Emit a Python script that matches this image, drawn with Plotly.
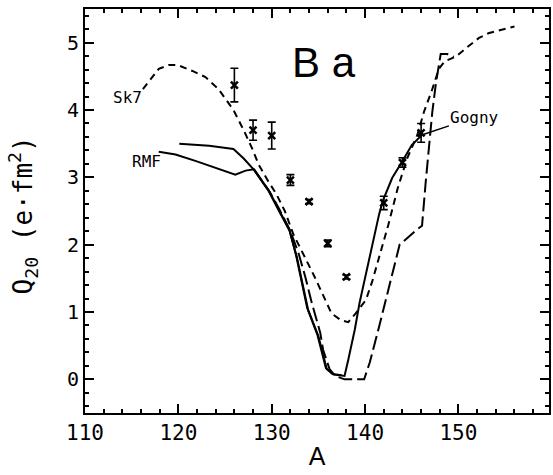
import plotly.graph_objects as go

# Quadrupole moments Q20 (e·fm^2) of Ba isotopes versus mass number A

# Sk7 (Skyrme) calculation
sk7_A = [116.2, 117.1, 117.9, 119.0, 119.9, 121.5, 122.9, 124.3, 125.2, 125.9,
         127.0, 127.9, 128.6, 129.5, 130.5, 131.4, 132.3, 133.4, 134.6, 135.5,
         136.4, 137.4, 138.2, 139.0, 140.1, 140.8, 141.5, 142.5, 143.5, 144.5,
         145.6, 146.3, 147.2, 147.9, 148.5, 149.8, 151.1, 152.2, 153.2, 154.5, 156.0]
sk7_Q = [4.31, 4.46, 4.61, 4.67, 4.67, 4.58, 4.49, 4.31, 4.14, 4.00,
         3.70, 3.43, 3.19, 2.97, 2.75, 2.50, 2.16, 1.86, 1.52, 1.25,
         0.98, 0.88, 0.85, 0.98, 1.18, 1.47, 1.81, 2.30, 2.84, 3.28,
         3.63, 3.97, 4.31, 4.61, 4.72, 4.80, 4.95, 5.07, 5.14, 5.19, 5.24]

# Gogny calculation
gogny_A = [120.1, 123.3, 125.9, 127.0, 128.1, 129.7, 130.7, 131.9, 132.7, 133.2,
           133.9, 135.0, 135.9, 136.7, 137.8, 138.2, 138.9, 139.4, 140.1, 140.8,
           141.5, 141.9, 142.9, 144.0, 145.0, 146.1]
gogny_Q = [3.50, 3.47, 3.42, 3.28, 3.11, 2.79, 2.52, 2.21, 1.81, 1.47,
           1.03, 0.64, 0.15, 0.07, 0.05, 0.29, 0.74, 1.13, 1.57, 2.06,
           2.45, 2.65, 2.99, 3.24, 3.48, 3.63]

# RMF calculation
rmf_A = [117.9, 119.7, 121.9, 124.0, 126.1, 127.2, 128.1, 129.7, 130.7, 131.9,
         132.6, 133.1, 133.8, 134.9, 135.8, 136.5, 137.5]
rmf_Q = [3.38, 3.34, 3.24, 3.14, 3.04, 3.10, 3.12, 2.80, 2.54, 2.22,
         1.85, 1.50, 1.06, 0.66, 0.17, 0.08, 0.06]

# Unlabelled long-dashed calculation
ld_A = [128.1, 129.8, 130.8, 132.0, 132.9, 133.6, 134.3, 135.2, 135.5, 136.2,
        136.8, 137.8, 139.9, 140.5, 141.5, 142.4, 143.7, 145.6, 146.1, 146.5,
        146.9, 147.2, 147.6, 147.9, 148.1, 148.8, 149.5]
ld_Q = [3.12, 2.78, 2.53, 2.20, 1.86, 1.52, 1.13, 0.69, 0.44, 0.15,
        0.05, 0.00, 0.00, 0.25, 0.78, 1.27, 2.00, 2.23, 2.28, 2.94,
        3.53, 3.97, 4.41, 4.71, 4.83, 4.83, 4.79]

# Experimental values with uncertainties
exp_A = [126, 128, 130, 132, 134, 136, 138, 142, 144, 146]
exp_Q = [4.37, 3.70, 3.62, 2.96, 2.64, 2.02, 1.52, 2.62, 3.22, 3.66]
exp_err = [0.25, 0.15, 0.20, 0.08, 0.03, 0.05, 0.03, 0.10, 0.07, 0.14]

x_range = [110, 159.7]
y_range = [-0.5, 5.5]

mono = "DejaVu Sans Mono"
sans = "Liberation Sans"

fig = go.Figure()

fig.add_trace(go.Scatter(x=sk7_A, y=sk7_Q, mode="lines",
                         line=dict(color="black", width=2, dash="7px,5px")))
fig.add_trace(go.Scatter(x=ld_A, y=ld_Q, mode="lines",
                         line=dict(color="black", width=2, dash="14px,5px")))
fig.add_trace(go.Scatter(x=rmf_A, y=rmf_Q, mode="lines",
                         line=dict(color="black", width=2)))
fig.add_trace(go.Scatter(x=gogny_A, y=gogny_Q, mode="lines",
                         line=dict(color="black", width=2)))
fig.add_trace(go.Scatter(
    x=exp_A, y=exp_Q, mode="markers",
    marker=dict(symbol="x-thin", size=7, line=dict(color="black", width=2.5)),
    error_y=dict(type="data", array=exp_err, visible=True,
                 color="black", thickness=1.6, width=4),
))
# empty trace that carries the overlay axes used for the minor ticks
fig.add_trace(go.Scatter(x=[None], y=[None], xaxis="x2", yaxis="y2",
                         mode="lines", hoverinfo="skip"))

fig.add_annotation(x=135.6, y=4.70, text="B a", showarrow=False,
                   font=dict(family=sans, size=42, color="black"))
fig.add_annotation(x=114.5, y=4.18, text="Sk7", showarrow=False,
                   font=dict(family=mono, size=16, color="black"))
fig.add_annotation(x=116.6, y=3.23, text="RMF", showarrow=False,
                   font=dict(family=mono, size=16, color="black"))
fig.add_annotation(x=146.3, y=3.64, text="Gogny", showarrow=True,
                   arrowhead=0, arrowwidth=1.5, arrowcolor="black",
                   ax=51, ay=-17, standoff=0,
                   font=dict(family=mono, size=16, color="black"))
# y-axis title
fig.add_annotation(xref="paper", yref="paper", x=-0.135, y=0.49,
                   text="Q<sub>20</sub> (e·fm<sup>2</sup>)", textangle=-90,
                   showarrow=False, xanchor="center", yanchor="middle",
                   font=dict(family=mono, size=26, color="black"))

fig.update_layout(
    width=553, height=475,
    margin=dict(l=85, r=2, t=9, b=62),
    paper_bgcolor="white", plot_bgcolor="white",
    showlegend=False,
    xaxis=dict(showline=True, linecolor="black", linewidth=2, mirror="ticks",
               ticks="inside", ticklen=9, tickwidth=2, tickcolor="black",
               range=x_range, tickmode="linear", tick0=110, dtick=10,
               tickfont=dict(family=mono, size=21, color="black"),
               title=dict(text="A", font=dict(family=sans, size=25, color="black"),
                          standoff=3)),
    yaxis=dict(showline=True, linecolor="black", linewidth=2, mirror="ticks",
               ticks="inside", ticklen=9, tickwidth=2, tickcolor="black",
               range=y_range, tickmode="linear", tick0=0, dtick=1,
               tickfont=dict(family=mono, size=20, color="black")),
    xaxis2=dict(overlaying="x", range=x_range, tickmode="linear", tick0=110,
                dtick=2, ticks="inside", ticklen=4, tickwidth=1.5,
                tickcolor="black", mirror="ticks", showticklabels=False),
    yaxis2=dict(overlaying="y", range=y_range, tickmode="linear", tick0=0,
                dtick=0.2, ticks="inside", ticklen=4, tickwidth=1.5,
                tickcolor="black", mirror="ticks", showticklabels=False),
)

fig.write_html("out.html")
